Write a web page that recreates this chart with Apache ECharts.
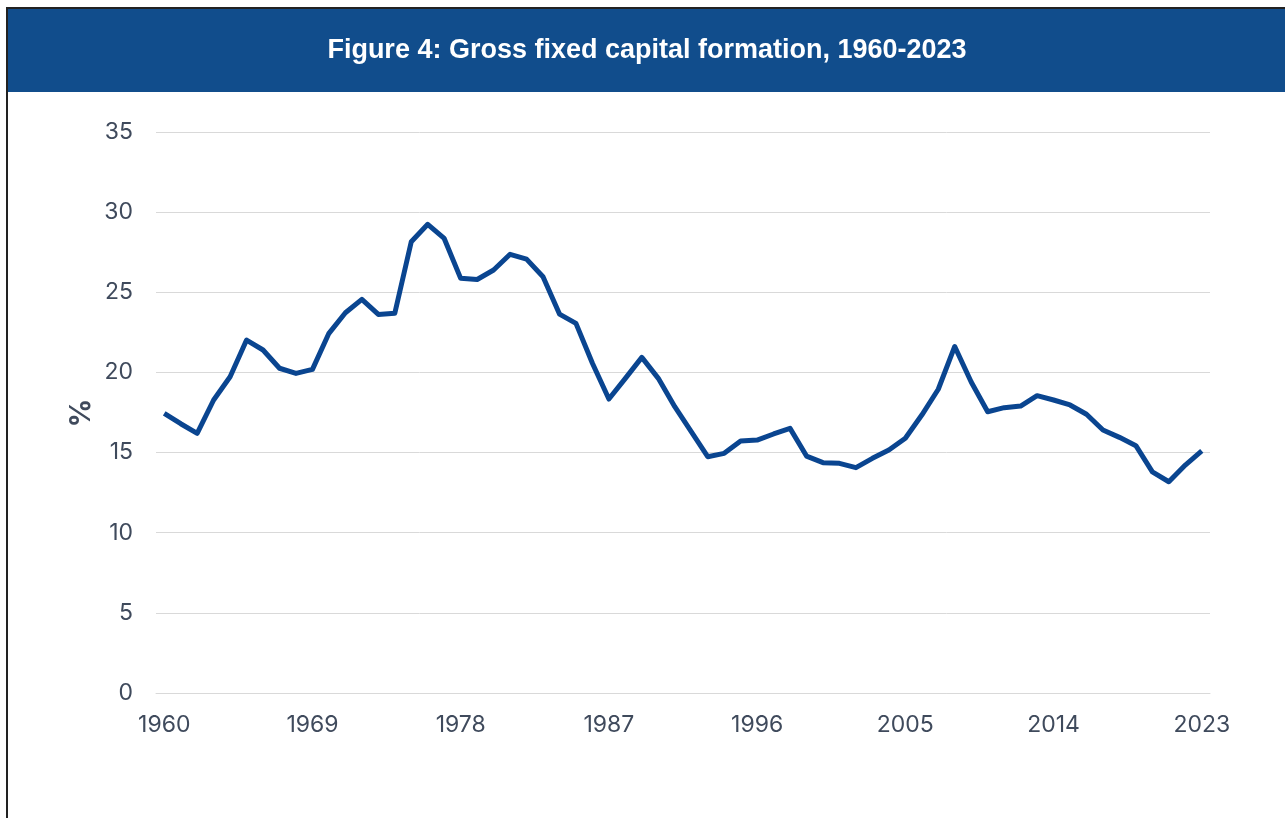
<!DOCTYPE html>
<html>
<head>
<meta charset="utf-8">
<title>Gross fixed capital formation, 1960-2023</title>
<script src="https://cdn.jsdelivr.net/npm/echarts@6/dist/echarts.min.js"></script>
<style>
  html, body { margin: 0; padding: 0; background: #fff; }
  #chart { width: 1285px; height: 818px; }
</style>
</head>
<body>
<div id="chart"></div>
<script>
// years on the x axis
const years = []
for (let y = 1960; y <= 2023; y++) years.push(String(y))

// gross fixed capital formation, %
const gfcf = [
    17.45, 16.8, 16.2, 18.28, 19.73, 22.02, 21.4, 20.26, 19.94, 20.19,
    22.44, 23.72, 24.56, 23.62, 23.69, 28.15, 29.24, 28.36, 25.87, 25.8,
    26.39, 27.37, 27.07, 25.97, 23.64, 23.06, 20.57, 18.34, 19.63, 20.94,
    19.63, 17.86, 16.3, 14.74, 14.95, 15.72, 15.78, 16.16, 16.51, 14.78,
    14.37, 14.33, 14.06, 14.64, 15.16, 15.89, 17.34, 18.95, 21.62, 19.4,
    17.55, 17.8, 17.9, 18.55, 18.28, 17.97, 17.39, 16.41, 15.95, 15.43,
    13.8, 13.18, 14.22, 15.1
]

const titleText = 'Figure 4: Gross fixed capital formation, 1960-2023'
const unitText = '%'
const labelColor = '#3f4a5c'
const blue = '#114d8c'

const chartDom = document.getElementById('chart')
const myChart = echarts.init(chartDom)

const option = {
    animation: false,
    backgroundColor: '#fff',
    graphic: [
        {
            type: 'rect',
            shape: { x: 7, y: 9, width: 1285, height: 83 },
            style: { fill: blue },
            z: 0
        },
        {
            type: 'polyline',
            shape: { points: [[7, 830], [7, 8], [1290, 8]] },
            style: { stroke: '#222', lineWidth: 2, fill: null },
            z: 1
        },
        {
            type: 'text',
            x: 647,
            y: 51,
            style: {
                text: titleText,
                fill: '#fff',
                align: 'center',
                verticalAlign: 'middle',
                font: 'bold 27px "Liberation Sans", Arial, sans-serif'
            },
            z: 2
        },
        // unit label of the value axis, turned to read upwards
        {
            type: 'text',
            x: 82,
            y: 413,
            rotation: Math.PI / 2,
            style: {
                text: unitText,
                fill: labelColor,
                align: 'center',
                verticalAlign: 'middle',
                font: 'bold 28px Inter, sans-serif'
            },
            z: 2
        }
    ],
    grid: { left: 156, right: 75, top: 132, bottom: 125 },
    xAxis: {
        type: 'category',
        data: years,
        boundaryGap: true,
        axisLine: { show: true, lineStyle: { color: '#d9d9d9', width: 1 } },
        axisTick: { show: false },
        axisLabel: {
            interval: 8,
            color: labelColor,
            fontSize: 23,
            fontFamily: 'Inter',
            margin: 21
        }
    },
    yAxis: {
        type: 'value',
        min: 0,
        max: 35,
        interval: 5,
        axisLine: { show: false },
        axisTick: { show: false },
        splitLine: { lineStyle: { color: '#d9d9d9', width: 1 } },
        axisLabel: {
            color: labelColor,
            fontSize: 23,
            fontFamily: 'Inter',
            margin: 23
        }
    },
    series: [
        {
            type: 'line',
            data: gfcf,
            symbol: 'none',
            lineStyle: { color: '#0a4590', width: 5, join: 'round' }
        }
    ]
}

myChart.setOption(option)
</script>
</body>
</html>
